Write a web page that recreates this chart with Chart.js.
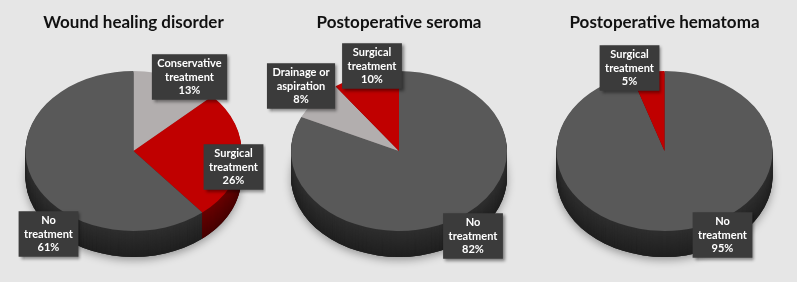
<!DOCTYPE html>
<html>
<head>
<meta charset="utf-8">
<script src="https://cdn.jsdelivr.net/npm/chart.js@4.4.1/dist/chart.umd.min.js"></script>
<style>
  body { margin: 0; background: #e6e6e6; }
  .row { display: flex; width: 797px; height: 282px; }
  .panel { position: relative; height: 282px; }
</style>
</head>
<body>
<div class="row">
  <div class="panel" style="width:266px"><canvas id="wound"></canvas></div>
  <div class="panel" style="width:265px"><canvas id="seroma"></canvas></div>
  <div class="panel" style="width:266px"><canvas id="hematoma"></canvas></div>
</div>
<script>
// data
const woundTitle = "Wound healing disorder";
const woundLabels = [["Conservative", "treatment"], ["Surgical", "treatment"], ["No", "treatment"]];
const woundValues = [13, 26, 61];

const seromaTitle = "Postoperative seroma";
const seromaLabels = [["No", "treatment"], ["Drainage or", "aspiration"], ["Surgical", "treatment"]];
const seromaValues = [82, 8, 10];

const hematomaTitle = "Postoperative hematoma";
const hematomaLabels = [["No", "treatment"], ["Surgical", "treatment"]];
const hematomaValues = [95, 5];

// colours per category
const colTop = { none: "#595959", surgical: "#c00000", other: "#b2aeae" };
const colSide = { none: "#2f2f2f", surgical: "#6a0000", other: "#7c7878" };

// 3d look: squash the pie and stack a darker rim under it
const pie3d = {
  id: "pie3d",
  beforeDatasetsDraw(chart, args, opts) {
    const ctx = chart.ctx;
    const arcs = chart.getDatasetMeta(0).data;
    const cx = arcs[0].x, cy = arcs[0].y;
    const r = arcs[0].outerRadius;
    const sides = chart.data.datasets[0].sideColor;
    for (let d = opts.depth; d >= 1; d--) {
      ctx.save();
      ctx.translate(cx, cy + d);
      ctx.scale(1, opts.tilt);
      if (d === opts.depth) {
        ctx.shadowColor = "rgba(0,0,0,0.35)";
        ctx.shadowBlur = 9;
        ctx.shadowOffsetY = 3;
        ctx.beginPath();
        ctx.arc(0, 0, r, 0, Math.PI * 2);
        ctx.fillStyle = "#222";
        ctx.fill();
        ctx.shadowColor = "transparent";
      }
      arcs.forEach((a, i) => {
        ctx.beginPath();
        ctx.moveTo(0, 0);
        ctx.arc(0, 0, a.outerRadius, a.startAngle, a.endAngle);
        ctx.closePath();
        ctx.fillStyle = sides[i];
        ctx.fill();
        ctx.fillStyle = "rgba(0,0,0," + (0.35 * d / opts.depth) + ")";
        ctx.fill();
      });
      ctx.restore();
    }
    ctx.save();
    ctx.translate(cx, cy);
    ctx.scale(1, opts.tilt);
    ctx.translate(-cx, -cy);
  },
  afterDatasetsDraw(chart) {
    chart.ctx.restore();
  }
};

// dark data label boxes
const boxLabels = {
  id: "boxLabels",
  afterDraw(chart, args, opts) {
    const ctx = chart.ctx;
    const arcs = chart.getDatasetMeta(0).data;
    const cx = arcs[0].x, cy = arcs[0].y;
    const values = chart.data.datasets[0].data;
    ctx.save();
    ctx.font = "bold 11px Lato";
    ctx.textAlign = "center";
    ctx.textBaseline = "middle";
    chart.data.labels.forEach((lab, i) => {
      const lines = [...lab, values[i] + "%"];
      const w = Math.max(...lines.map(l => ctx.measureText(l).width)) + 11;
      const h = lines.length * 13.5 + 5;
      const px = cx + opts.spots[i][0], py = cy + opts.spots[i][1];
      const x = px - w / 2, y = py - h / 2;
      ctx.shadowColor = "rgba(0,0,0,0.45)";
      ctx.shadowBlur = 3;
      ctx.shadowOffsetX = 2;
      ctx.shadowOffsetY = 2;
      ctx.fillStyle = "#3b3b3b";
      ctx.fillRect(x, y, w, h);
      ctx.shadowColor = "transparent";
      ctx.fillStyle = "#ffffff";
      lines.forEach((l, j) => ctx.fillText(l, px, y + 2.5 + 6.75 + j * 13.5));
    });
    ctx.restore();
  }
};

function makePie(id, title, labels, values, keys, spots) {
  new Chart(document.getElementById(id), {
    type: "pie",
    data: {
      labels: labels,
      datasets: [{
        data: values,
        backgroundColor: keys.map(k => colTop[k]),
        sideColor: keys.map(k => colSide[k]),
        borderWidth: 0,
        hoverOffset: 0
      }]
    },
    options: {
      responsive: true,
      maintainAspectRatio: false,
      animation: false,
      events: [],
      layout: { padding: { left: 25, right: 24, top: 0, bottom: 23 } },
      plugins: {
        legend: { display: false },
        tooltip: { enabled: false },
        title: {
          display: true,
          text: title,
          color: "#111111",
          font: { family: "Lato", size: 17, weight: "bold" },
          padding: { top: 12, bottom: 10.6 }
        },
        pie3d: { tilt: 0.74, depth: 26 },
        boxLabels: { spots: spots }
      }
    },
    plugins: [pie3d, boxLabels]
  });
}

makePie("wound", woundTitle, woundLabels, woundValues,
  ["other", "surgical", "none"],
  [[56, -74], [100, 16], [-85, 83]]);
makePie("seroma", seromaTitle, seromaLabels, seromaValues,
  ["none", "other", "surgical"],
  [[74, 85], [-98, -65], [-27, -85]]);
makePie("hematoma", hematomaTitle, hematomaLabels, hematomaValues,
  ["none", "surgical"],
  [[58, 84], [-35, -83]]);
</script>
</body>
</html>
